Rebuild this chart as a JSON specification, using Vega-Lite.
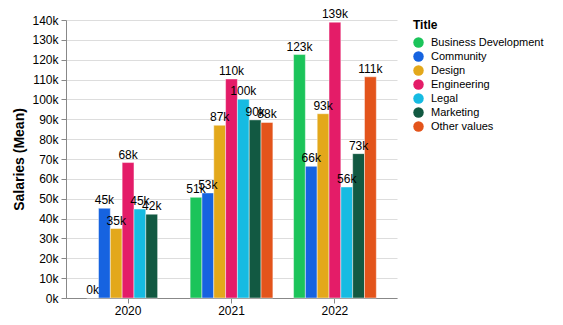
{
  "$schema": "https://vega.github.io/schema/vega-lite/v6.json",
  "width": 331,
  "height": 278,
  "padding": {"left": 12, "top": 8, "right": 5, "bottom": 5},
  "config": {
    "font": "Liberation Sans",
    "view": {"stroke": null},
    "axis": {"labelFontSize": 12, "titleFontSize": 14, "labelColor": "#000", "titleColor": "#000", "domainColor": "#888", "tickColor": "#888", "gridColor": "#ddd"},
    "legend": {"labelFontSize": 11, "titleFontSize": 12, "labelColor": "#000", "titleColor": "#000", "offset": 16, "labelOffset": 7}
  },
  "data": {
    "values": [
      {"year": "2020", "Title": "Business Development", "salary": 0},
      {"year": "2020", "Title": "Community", "salary": 45200},
      {"year": "2020", "Title": "Design", "salary": 35000},
      {"year": "2020", "Title": "Engineering", "salary": 68200},
      {"year": "2020", "Title": "Legal", "salary": 44800},
      {"year": "2020", "Title": "Marketing", "salary": 42200},
      {"year": "2021", "Title": "Business Development", "salary": 50700},
      {"year": "2021", "Title": "Community", "salary": 52900},
      {"year": "2021", "Title": "Design", "salary": 87000},
      {"year": "2021", "Title": "Engineering", "salary": 110300},
      {"year": "2021", "Title": "Legal", "salary": 100100},
      {"year": "2021", "Title": "Marketing", "salary": 89700},
      {"year": "2021", "Title": "Other values", "salary": 88400},
      {"year": "2022", "Title": "Business Development", "salary": 122600},
      {"year": "2022", "Title": "Community", "salary": 66300},
      {"year": "2022", "Title": "Design", "salary": 92800},
      {"year": "2022", "Title": "Engineering", "salary": 138900},
      {"year": "2022", "Title": "Legal", "salary": 55900},
      {"year": "2022", "Title": "Marketing", "salary": 72700},
      {"year": "2022", "Title": "Other values", "salary": 111400}
    ]
  },
  "transform": [
    {"calculate": "format(datum.salary / 1000, '.0f') + 'k'", "as": "label"}
  ],
  "encoding": {
    "x": {"field": "year", "type": "nominal", "title": null,
      "scale": {"paddingInner": 0.2, "paddingOuter": 0.2},
      "axis": {"labelAngle": 0, "labelPadding": 2}},
    "xOffset": {"field": "Title", "type": "nominal", "scale": {"paddingInner": 0, "paddingOuter": 0}},
    "y": {"field": "salary", "type": "quantitative", "title": "Salaries (Mean)",
      "scale": {"domain": [0, 140000]},
      "axis": {"tickCount": 14, "labelExpr": "datum.value / 1000 + 'k'", "titlePadding": 5, "labelPadding": 3}}
  },
  "layer": [
    {
      "mark": {"type": "bar", "stroke": "white", "strokeOpacity": 0.45, "strokeWidth": 1},
      "encoding": {
        "color": {"field": "Title", "type": "nominal", "title": "Title",
          "scale": {
            "domain": ["Business Development", "Community", "Design", "Engineering", "Legal", "Marketing", "Other values"],
            "range": ["#1bc45a", "#1663e0", "#e3a81b", "#e41c68", "#16bbe2", "#125942", "#e3541b"]
          },
          "legend": {"symbolType": "circle", "symbolSize": 110, "symbolStrokeWidth": 0, "symbolOpacity": 1}
        }
      }
    },
    {
      "mark": {"type": "text", "baseline": "bottom", "dy": -1, "fontSize": 12, "color": "#000"},
      "encoding": {"text": {"field": "label"}}
    }
  ]
}
